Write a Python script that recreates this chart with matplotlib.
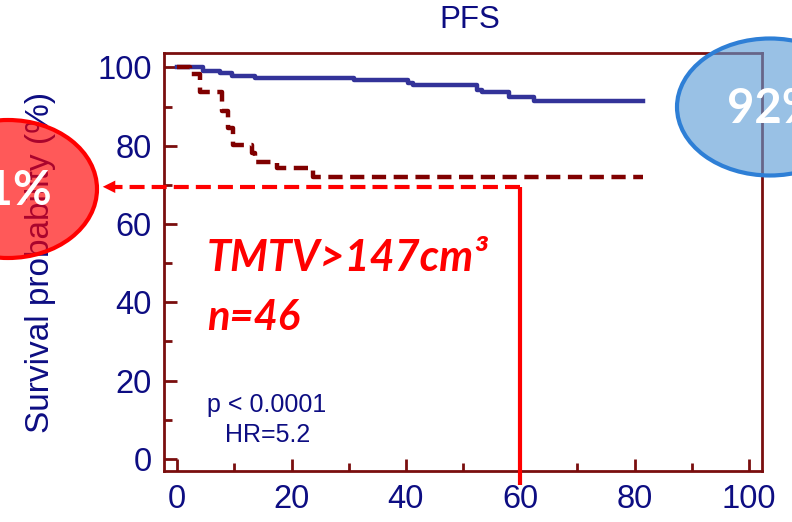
import matplotlib
matplotlib.use("Agg")
import matplotlib.pyplot as plt
from matplotlib.patches import Ellipse
from matplotlib.ticker import MultipleLocator

# Kaplan-Meier steps
time_low = [0, 4.5, 7.5, 9.6, 13.6, 31.0, 40.3, 41.2, 52.5, 53.4, 58.1, 62.5, 81.5]
surv_low = [100, 99.2, 98.5, 97.9, 97.4, 96.8, 96.0, 95.4, 94.3, 93.6, 92.5, 91.3, 91.3]

time_high = [0, 2.3, 4.0, 7.9, 8.9, 9.8, 13.1, 13.6, 17.5, 23.7, 81.5]
surv_high = [100, 98.4, 93.8, 88.9, 84.5, 80.2, 78.2, 75.9, 74.3, 72.0, 72.0]

x_ticks = [0, 20, 40, 60, 80, 100]
y_ticks = [0, 20, 40, 60, 80, 100]

marker_time = 60
marker_surv = 69.5
arrow_end = -13.5
line_bottom = -6.6

navy = "#0d0d82"
maroon = "#7a0e0e"

fig = plt.figure(figsize=(7.92, 5.22), dpi=100)
ax = fig.add_axes([0.2071, 0.0977, 0.7550, 0.8002])
ax.set_xlim(-2.3, 102.3)
ax.set_ylim(-3.1, 103.6)

ax.step(time_low, surv_low, where="post", color="#333399", lw=3.2, zorder=3)
ax.step(time_high, surv_high, where="post", color="#800000", lw=3.2,
        linestyle=(0, (3.2, 1.7)), zorder=3)

# 60-month guide lines and arrow
ax.plot([marker_time, marker_time], [line_bottom, marker_surv], color="#ff0000",
        lw=3.0, clip_on=False, zorder=4, solid_capstyle="butt")
ax.plot([marker_time, arrow_end + 2.5], [marker_surv, marker_surv], color="#ff0000",
        lw=3.0, linestyle=(0, (3.6, 1.7)), clip_on=False, zorder=4)
ax.annotate("", xy=(arrow_end, marker_surv), xytext=(arrow_end + 3.0, marker_surv),
            arrowprops=dict(arrowstyle="-|>,head_length=0.9,head_width=0.45",
                            color="#ff0000", lw=0), annotation_clip=False, zorder=4)

for s in ax.spines.values():
    s.set_color(maroon)
    s.set_linewidth(2.0)

ax.set_xticks(x_ticks)
ax.set_yticks(y_ticks)
ax.xaxis.set_minor_locator(MultipleLocator(10))
ax.yaxis.set_minor_locator(MultipleLocator(10))
ax.tick_params(which="major", direction="in", length=9, width=2.0, color=maroon,
               labelcolor=navy, labelsize=23.5, pad=9)
ax.tick_params(which="minor", direction="in", length=5.5, width=2.0, color=maroon)
for lab in ax.get_xticklabels() + ax.get_yticklabels():
    lab.set_family("Liberation Sans")

ax.set_ylabel("Survival probability (%)", color=navy, fontsize=24, family="Liberation Sans")
ax.yaxis.set_label_coords(-0.18, 0.5)

fig.text(470 / 792, 1 - 20 / 522, "PFS", color=navy, fontsize=22.5, family="Liberation Sans",
         ha="center", va="center")

ax.text(5.2, 51.3, "TMTV>147cm³", color="#ff0000", fontsize=31, family="Lato",
        fontweight="bold", fontstyle="italic", va="center", ha="left")
ax.text(5.2, 36.0, "n=46", color="#ff0000", fontsize=30, family="Lato",
        fontweight="bold", fontstyle="italic", va="center", ha="left")
ax.text(5.2, 13.8, "p < 0.0001", color=navy, fontsize=18, family="Liberation Sans",
        va="center", ha="left")
ax.text(8.4, 6.1, "HR=5.2", color=navy, fontsize=18, family="Liberation Sans",
        va="center", ha="left")

# overlay for the call-out bubbles, in pixel units
ov = fig.add_axes([0, 0, 1, 1], zorder=5)
ov.set_xlim(0, 792)
ov.set_ylim(522, 0)
ov.axis("off")

ov.add_patch(Ellipse((8, 189), 178, 138, facecolor="#ff0000", alpha=0.65, lw=0))
ov.add_patch(Ellipse((8, 189), 178, 138, facecolor="none", edgecolor="#ff0000", lw=3))
ov.text(6, 191, "71%", color="white", fontsize=34, family="Lato", fontweight="bold",
        ha="center", va="center")

ov.add_patch(Ellipse((770, 107), 186, 137, facecolor="#5b9bd5", alpha=0.62, lw=0))
ov.add_patch(Ellipse((770, 107), 186, 137, facecolor="none", edgecolor="#2e7fd6", lw=3))
ov.text(774, 109, "92%", color="white", fontsize=34, family="Lato", fontweight="bold",
        ha="center", va="center")

fig.savefig("out.png", dpi=100)
